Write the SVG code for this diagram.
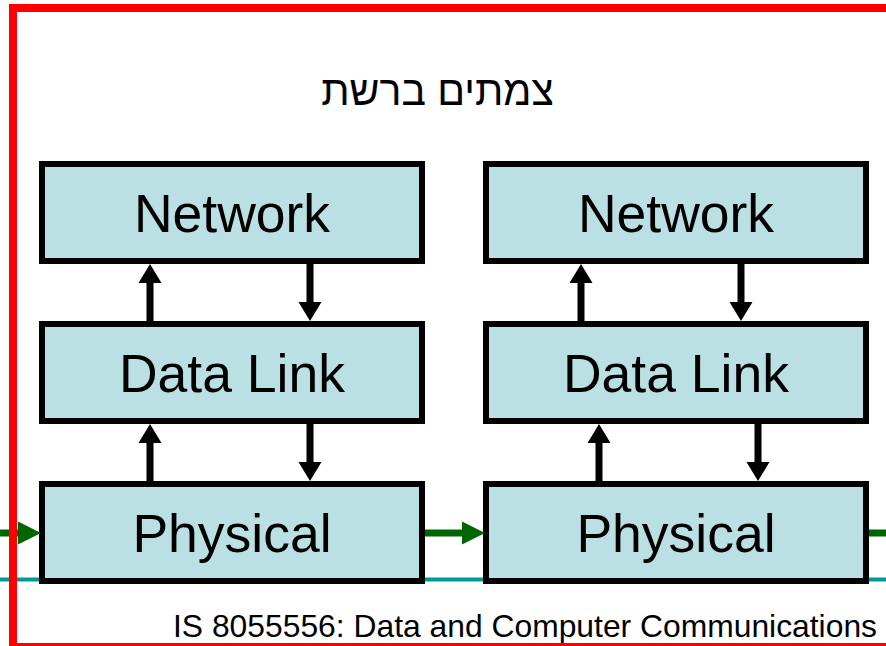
<svg xmlns="http://www.w3.org/2000/svg" width="886" height="646" viewBox="0 0 886 646">
  <style>
    .box { fill: #BBE0E3; stroke: #000; stroke-width: 6; }
    .lbl { font-family: "Liberation Sans", Arial, sans-serif; font-size: 53.5px; fill: #000; text-anchor: middle; }
    .blk { stroke: #000; stroke-width: 7; fill: none; }
    .grn { stroke: #006600; stroke-width: 7; fill: none; }
  </style>
  <defs>
    <marker id="headBlack" markerUnits="userSpaceOnUse" markerWidth="19" markerHeight="23" refX="0" refY="11.5" orient="auto" overflow="visible">
      <path d="M0,0 L19,11.5 L0,23 z" fill="#000"/>
    </marker>
    <marker id="headGreen" markerUnits="userSpaceOnUse" markerWidth="23" markerHeight="23" refX="0" refY="11.5" orient="auto" overflow="visible">
      <path d="M0,0 L23,11.5 L0,23 z" fill="#006600"/>
    </marker>
  </defs>

  <rect width="886" height="646" fill="#fff"/>

  <!-- title -->
  <text x="437.5" y="105" font-family="'Liberation Sans', 'DejaVu Sans', sans-serif" font-size="41" text-anchor="middle" fill="#000">צמתים ברשת</text>

  <!-- transmission medium -->
  <line x1="0" y1="579.5" x2="886" y2="579.5" stroke="#009999" stroke-width="4"/>

  <!-- stack A -->
  <g id="netA"><rect class="box" x="42" y="164" width="380" height="97"/><text class="lbl" x="232" y="232">Network</text></g>
  <g id="dlA"><rect class="box" x="42" y="324" width="380" height="97"/><text class="lbl" x="232" y="392">Data Link</text></g>
  <g id="phyA"><rect class="box" x="42" y="484" width="380" height="97"/><text class="lbl" x="232" y="552">Physical</text></g>

  <!-- stack B -->
  <g id="netB"><rect class="box" x="486" y="164" width="380" height="97"/><text class="lbl" x="676" y="232">Network</text></g>
  <g id="dlB"><rect class="box" x="486" y="324" width="380" height="97"/><text class="lbl" x="676" y="392">Data Link</text></g>
  <g id="phyB"><rect class="box" x="486" y="484" width="380" height="97"/><text class="lbl" x="676" y="552">Physical</text></g>

  <!-- connectors -->
  <g id="connectors">
    <!-- stack A vertical -->
    <line class="blk" x1="150" y1="321" x2="150" y2="283" marker-end="url(#headBlack)"/>
    <line class="blk" x1="310" y1="264" x2="310" y2="302" marker-end="url(#headBlack)"/>
    <line class="blk" x1="150" y1="481" x2="150" y2="443" marker-end="url(#headBlack)"/>
    <line class="blk" x1="310" y1="424" x2="310" y2="462" marker-end="url(#headBlack)"/>
    <!-- stack B vertical -->
    <line class="blk" x1="581" y1="321" x2="581" y2="283" marker-end="url(#headBlack)"/>
    <line class="blk" x1="741" y1="264" x2="741" y2="302" marker-end="url(#headBlack)"/>
    <line class="blk" x1="599" y1="481" x2="599" y2="443" marker-end="url(#headBlack)"/>
    <line class="blk" x1="758" y1="424" x2="758" y2="462" marker-end="url(#headBlack)"/>
    <!-- physical links -->
    <line class="grn" x1="0" y1="533" x2="18" y2="533" marker-end="url(#headGreen)"/>
    <line class="grn" x1="425" y1="533" x2="462" y2="533" marker-end="url(#headGreen)"/>
    <line class="grn" x1="869" y1="533" x2="886" y2="533"/>
  </g>

  <!-- footer -->
  <text x="173" y="637" font-family="'Liberation Sans', Arial, sans-serif" font-size="32" textLength="704" lengthAdjust="spacingAndGlyphs" fill="#000">IS 8055556: Data and Computer Communications</text>

  <!-- frame -->
  <rect x="13" y="8" width="880" height="639" fill="none" stroke="#FF0000" stroke-width="8"/>
</svg>
